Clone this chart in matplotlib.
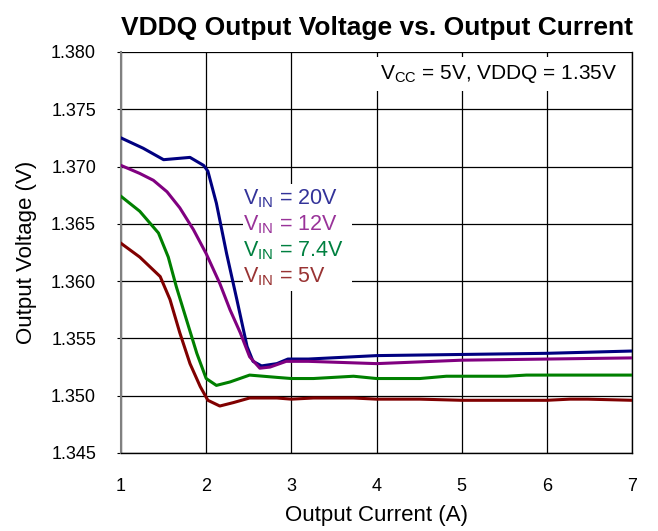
import matplotlib
matplotlib.use("Agg")
import matplotlib.pyplot as plt
from matplotlib.patches import Rectangle

plt.rcParams['font.family'] = ['Liberation Sans', 'DejaVu Sans']
plt.rcParams['mathtext.fontset'] = 'custom'
plt.rcParams['mathtext.rm'] = 'Liberation Sans'

# Output current (A) / output voltage (V) per input voltage
i_20v = [1.0, 1.26, 1.5, 1.81, 1.97, 2.02, 2.12, 2.24, 2.36, 2.48, 2.55, 2.65,
         2.83, 2.96, 3.2, 4.0, 5.0, 6.0, 7.0]
v_20v = [1.3725, 1.3716, 1.3706, 1.3708, 1.3701, 1.3696, 1.3668, 1.3624, 1.3584,
         1.3543, 1.3530, 1.3526, 1.3528, 1.3532, 1.3532, 1.3535, 1.3536, 1.3537, 1.3539]

i_12v = [1.0, 1.22, 1.38, 1.54, 1.69, 1.85, 2.0, 2.16, 2.28, 2.40, 2.51, 2.63,
         2.75, 2.94, 3.2, 4.0, 5.0, 6.0, 7.0]
v_12v = [1.3701, 1.3694, 1.3688, 1.3678, 1.3664, 1.3645, 1.3624, 1.3598, 1.3575,
         1.3555, 1.3534, 1.3524, 1.3525, 1.3530, 1.3530, 1.3528, 1.3531, 1.3532, 1.3533]

i_74v = [1.0, 1.22, 1.44, 1.555, 1.65, 1.77, 1.89, 2.0, 2.12, 2.28, 2.51, 2.83,
         3.0, 3.26, 3.73, 4.0, 4.51, 4.82, 5.53, 5.76, 7.0]
v_74v = [1.3674, 1.3661, 1.3642, 1.3621, 1.3595, 1.3566, 1.3537, 1.3515, 1.3509,
         1.3512, 1.3518, 1.3516, 1.3515, 1.3515, 1.3517, 1.3515, 1.3515, 1.3517,
         1.3517, 1.3518, 1.3518]

i_5v = [1.0, 1.22, 1.46, 1.575, 1.69, 1.81, 1.93, 2.02, 2.16, 2.32, 2.51, 2.83,
        3.0, 3.26, 3.73, 4.0, 4.51, 5.0, 6.0, 6.27, 6.48, 7.0]
v_5v = [1.3633, 1.3621, 1.3604, 1.3584, 1.3555, 1.3528, 1.3508, 1.3496, 1.3491,
        1.3494, 1.3498, 1.3498, 1.3497, 1.3498, 1.3498, 1.3497, 1.3497, 1.3496,
        1.3496, 1.3497, 1.3497, 1.3496]

labels = ['20V', '12V', '7.4V', '5V']
line_colors = ['#000080', '#800080', '#008000', '#800000']
text_colors = ['#333399', '#993399', '#008040', '#993333']

x_ticks = [1, 2, 3, 4, 5, 6, 7]
y_ticks = [1.345, 1.350, 1.355, 1.360, 1.365, 1.370, 1.375, 1.380]

fig = plt.figure(figsize=(6.58, 5.31), dpi=100)
ax = fig.add_axes([0.1839, 0.1469, 0.7766, 0.7552])

series = [(i_20v, v_20v), (i_12v, v_12v), (i_74v, v_74v), (i_5v, v_5v)]
for (xs, ys), c in zip(series, line_colors):
    ax.plot(xs, ys, color=c, lw=2.2, zorder=4, solid_joinstyle='round')

ax.set_xlim(1, 7)
ax.set_ylim(1.345, 1.380)
ax.set_xticks(x_ticks)
ax.set_yticks(y_ticks)
ax.set_yticklabels([f"{v:.3f}" for v in y_ticks])
ax.tick_params(axis='x', length=0, pad=18, labelsize=13)
ax.tick_params(axis='y', length=3, pad=15, labelsize=13, direction='out')
ax.grid(True, color='black', lw=0.9, zorder=1)
ax.set_axisbelow(True)

ax.spines['top'].set_visible(False)
ax.spines['left'].set_color('#808080')
ax.spines['left'].set_linewidth(1.5)
ax.spines['bottom'].set_linewidth(1.0)
ax.spines['right'].set_linewidth(1.0)

ax.set_xlabel("Output Current (A)", fontsize=16, labelpad=7)
ax.set_ylabel("Output Voltage (V)", fontsize=16, labelpad=10)
ax.set_title("VDDQ Output Voltage vs. Output Current", fontsize=19,
             fontweight='bold', pad=12)

# condition box in the upper right
ax.text(0.507, 0.945, r"V$_{\mathregular{CC}}$ = 5V, VDDQ = 1.35V",
        transform=ax.transAxes, fontsize=15, va='center', ha='left',
        bbox=dict(facecolor='white', edgecolor='none', pad=4), zorder=3)

# series labels on a white patch
ax.add_patch(Rectangle((0.238, 0.405), 0.215, 0.265, transform=ax.transAxes,
                       facecolor='white', edgecolor='none', zorder=2))
for k, (lab, c) in enumerate(zip(labels, text_colors)):
    ax.text(0.238, 0.635 - k * 0.065, r"V$_{\mathregular{IN}}$ = " + lab,
            transform=ax.transAxes, color=c, fontsize=15.5, va='center',
            ha='left', zorder=3)

fig.savefig("out.png", dpi=100)
